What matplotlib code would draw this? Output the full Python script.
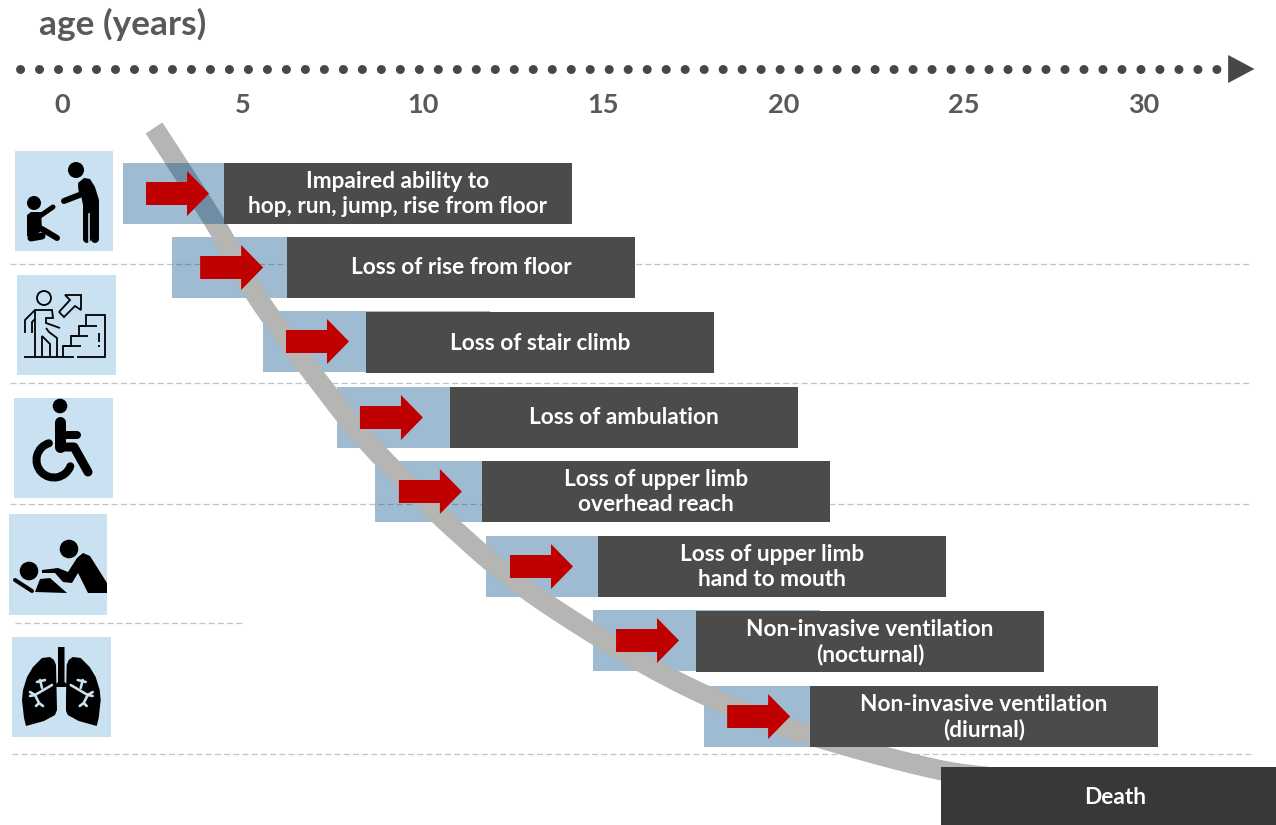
import numpy as np
import matplotlib
matplotlib.use("Agg")
import matplotlib.pyplot as plt
from matplotlib.patches import Polygon, Circle, Rectangle, Arc
from matplotlib.path import Path

plt.rcParams["font.family"] = ["Lato", "DejaVu Sans"]

# Milestones, youngest first (ages in years)
labels = [
    "Impaired ability to\nhop, run, jump, rise from floor",
    "Loss of rise from floor",
    "Loss of stair climb",
    "Loss of ambulation",
    "Loss of upper limb\noverhead reach",
    "Loss of upper limb\nhand to mouth",
    "Non-invasive ventilation\n(nocturnal)",
    "Non-invasive ventilation\n(diurnal)",
]
onset_start = [1.69, 3.05, 5.57, 7.62, 8.68, 11.75, 14.72, 17.80]
onset_end = [4.49, 6.24, 11.87, 10.76, 11.64, 14.86, 21.01, 20.74]
range_start = [4.49, 6.24, 8.43, 10.76, 11.64, 14.86, 17.58, 20.74]
range_end = [14.14, 15.89, 18.08, 20.40, 21.29, 24.51, 27.22, 30.39]
arrow_start = [2.33, 3.83, 6.21, 8.26, 9.34, 12.42, 15.36, 18.44]
onset_top = [163, 237, 311, 387, 461, 536, 610, 686]
range_top = [163, 237, 312, 387, 461, 536, 611, 686]

death_label = "Death"
death_start = 24.37
death_end = 34.02

age_ticks = [0, 5, 10, 15, 20, 25, 30]

# Decline curve knots: age and vertical position
curve_age = [2.55, 2.77, 4.24, 5.43, 7.15, 8.62, 10.90, 13.17, 16.55, 19.35, 21.85, 24.34, 26.0]
curve_y = [128, 140, 223, 298, 383, 448, 530, 597, 672, 718, 747, 770, 778]

# Separators: y, left age, right age
rule_y = [264, 383, 504, 623, 754]
rule_x0 = [-1.44, -1.44, -1.44, -1.30, -1.39]
rule_x1 = [33.0, 33.0, 33.0, 4.99, 33.0]

# Icon tiles: left, top, width, height
tile_x = [15, 17, 14, 9, 12]
tile_y = [151, 275, 398, 514, 637]
tile_w = [98, 99, 99, 98, 99]
tile_h = [100, 100, 100, 101, 100]

BAR_H = 61
INK = "#595959"
DARK = "#4b4b4a"
TILE = "#c9e1f1"
BLACK = "#000000"

fig = plt.figure(figsize=(12.76, 8.25), dpi=100)
ax = fig.add_axes([0, 0, 1, 1])
ax.set_xlim(-62 / 36.07, (1276 - 62) / 36.07)
ax.set_ylim(825, 0)
for s in ax.spines.values():
    s.set_visible(False)
ax.set_yticks([])
ax.set_xticks(age_ticks)
ax.tick_params(axis="x", length=0, bottom=False, top=False, labelbottom=False,
               labeltop=True, pad=-84.5, labelsize=19.5, labelcolor=INK)
for t in ax.get_xticklabels():
    t.set_fontweight("bold")

px = 72 / fig.dpi

# Axis title and dotted time arrow
ax.text(39 / 36.07 - 62 / 36.07, 24, "age (years)", fontsize=25.4, fontweight="bold",
        color=INK, ha="left", va="center")
ax.plot([-1.17, 32.2], [69, 69], color="#474747", lw=9 * px,
        linestyle=(0, (0.01, 18.9 / 9)), dash_capstyle="round", zorder=2)
ax.add_patch(Polygon([(32.33, 55), (33.06, 69), (32.33, 83)], closed=True,
                     facecolor="#474747", edgecolor="none", zorder=3))

# Dashed separators
for y, a, b in zip(rule_y, rule_x0, rule_x1):
    ax.plot([a, b], [y, y], color="#c4c4c4", lw=1.3 * px,
            linestyle=(0, (6 / 1.3, 3.2 / 1.3)), zorder=1)

# Smooth decline curve through its knots
k = np.column_stack([curve_age, curve_y])
verts = [tuple(k[0])]
codes = [Path.MOVETO]
for i in range(len(k) - 1):
    p0 = k[max(i - 1, 0)]
    p1, p2 = k[i], k[i + 1]
    p3 = k[min(i + 2, len(k) - 1)]
    verts += [tuple(p1 + (p2 - p0) / 6), tuple(p2 - (p3 - p1) / 6), tuple(p2)]
    codes += [Path.CURVE4] * 3
samples = np.linspace(0, 1, 16)
smooth = np.vstack([seg(samples) for seg, code in Path(verts, codes).iter_bezier()
                    if code == Path.CURVE4])
ax.plot(smooth[:, 0], smooth[:, 1], color="#b5b5b4", lw=20 * px,
        solid_capstyle="butt", solid_joinstyle="round", zorder=4)

# Onset bands; the first one sits over the curve
for i in range(len(labels)):
    ax.barh(onset_top[i] + BAR_H / 2, onset_end[i] - onset_start[i], BAR_H,
            left=onset_start[i], color="#004c89", alpha=0.38, linewidth=0,
            zorder=5 if i == 0 else 3)

# Range bars with labels
for i, txt in enumerate(labels):
    ax.barh(range_top[i] + BAR_H / 2, range_end[i] - range_start[i], BAR_H,
            left=range_start[i], color=DARK, linewidth=0, zorder=6)
    ax.text((range_start[i] + range_end[i]) / 2, range_top[i] + BAR_H / 2 + 0.5, txt,
            color="white", fontsize=16.3, fontweight="bold", ha="center", va="center",
            linespacing=1.22, zorder=8)

# Red onset arrows
HEAD_AT = 41 / 36.07
ARROW_LEN = 63 / 36.07
for x0, top in zip(arrow_start, onset_top):
    c = top + BAR_H / 2
    ax.add_patch(Polygon([(x0, c - 11.5), (x0 + HEAD_AT, c - 11.5), (x0 + HEAD_AT, c - 22.5),
                          (x0 + ARROW_LEN, c), (x0 + HEAD_AT, c + 22.5),
                          (x0 + HEAD_AT, c + 11.5), (x0, c + 11.5)], closed=True,
                         facecolor="#c00000", edgecolor="none", zorder=7))

# Final event
ax.barh(767 + 29, death_end - death_start, 58, left=death_start, color="#383838",
        linewidth=0, zorder=6)
ax.text((death_start + death_end) / 2, 797.5, death_label, color="white", fontsize=16.3,
        fontweight="bold", ha="center", va="center", zorder=8)

# Overlay in figure pixels for the icons
ic = fig.add_axes([0, 0, 1, 1], facecolor="none")
ic.set_xlim(0, 1276)
ic.set_ylim(825, 0)
ic.axis("off")


def stroke(xs, ys, w, color=BLACK, cap="round", z=10):
    ic.plot(xs, ys, color=color, lw=w * px, solid_capstyle=cap, solid_joinstyle="round", zorder=z)


def blob(points, color=BLACK, z=10):
    ic.add_patch(Polygon(points, closed=True, facecolor=color, edgecolor="none", zorder=z))


def disc(x, y, r):
    ic.add_patch(Circle((x, y), r, facecolor=BLACK, edgecolor="none", zorder=10))


for x, y, w, h in zip(tile_x, tile_y, tile_w, tile_h):
    ic.add_patch(Rectangle((x, y), w, h, facecolor=TILE, edgecolor="none", zorder=9))

# Adult helping a seated child
disc(76, 170, 8)
blob([(78, 183), (84, 178), (90, 179), (95, 187), (99, 200), (99, 238), (83, 238), (83, 205), (81, 195)])
stroke([81, 82, 64], [186, 194, 201], 6)
stroke([87, 87], [215, 239], 8)
stroke([95, 95], [215, 239], 8)
ic.plot([89, 89], [214, 243], color=TILE, lw=1.6 * px, zorder=11)
disc(34, 203, 7)
blob([(27, 215), (31, 212), (41, 212), (42, 228), (40, 232), (30, 238), (27, 236)])
stroke([40, 53], [216, 207], 5)
stroke([42, 57], [229, 238], 6)
stroke([31, 42], [238, 236], 7)

# Figure climbing stairs (line drawing)
LW = 1.8
ic.add_patch(Circle((44, 298), 7, facecolor="none", edgecolor=BLACK, lw=LW * px, zorder=10))
for xs, ys in [
    ([24, 74], [357, 357]),
    ([77, 105, 105, 86, 86, 79, 79, 71, 71, 63, 63], [357, 357, 315, 315, 326, 326, 336, 336, 346, 346, 357]),
    ([63, 81], [346, 346]),
    ([71, 88], [336, 336]),
    ([79, 97], [326, 326]),
    ([99, 99], [333, 342]),
    ([99, 99], [345, 347]),
    ([25, 25, 35, 52, 53, 46, 46, 60], [333, 320, 310, 310, 318, 318, 323, 328]),
    ([32, 32, 35], [333, 322, 319]),
    ([35, 35], [310, 357]),
    ([42, 42, 50, 50], [357, 336, 344, 357]),
    ([57, 57, 49, 46], [345, 338, 332, 328]),
    ([57, 57], [345, 357]),
    ([59, 64, 75, 81, 81, 65, 70, 59], [312, 317, 306, 310, 295, 295, 300, 312]),
]:
    ic.plot(xs, ys, color=BLACK, lw=LW * px, solid_joinstyle="miter", solid_capstyle="butt", zorder=10)

# Wheelchair user
disc(60, 406, 7.3)
stroke([60, 60], [422, 447], 11)
stroke([60, 77], [435, 435], 8)
stroke([60, 74, 88], [447, 447, 472], 9)
ic.add_patch(Arc((54, 460), 35, 35, theta1=21, theta2=253, edgecolor=BLACK, lw=8 * px,
                 capstyle="round", zorder=10))

# Carer feeding a reclining patient
disc(69, 549, 9.3)
disc(29, 571, 9.3)
blob([(83, 553), (90, 556), (107, 583), (107, 593), (88, 593), (78, 573), (72, 583), (63, 582),
      (55, 573), (42, 573), (42, 570), (58, 568), (68, 572), (77, 558)])
blob([(35, 592), (40, 579), (50, 578), (67, 593)])
stroke([15, 32], [580, 591], 4)

# Lungs
left_lung = [(50, 657), (54, 660), (56, 665), (57, 710), (55, 715), (44, 721), (26, 726), (24, 718),
             (22, 700), (23, 690), (27, 677), (33, 667), (42, 658)]
MIRROR = 122.7
blob(left_lung)
blob([(MIRROR - x, y) for x, y in left_lung])
blob([(58, 647), (64.5, 647), (64.5, 682), (67, 684), (67, 687), (56, 687), (56, 684), (58, 682)])
ic.add_patch(Rectangle((57, 687), 9, 30, facecolor=TILE, edgecolor="none", zorder=10))
for xs, ys in [
    ([52, 35], [685, 695]),
    ([40, 42], [680, 688]),
    ([37, 45], [682, 680]),
    ([30, 35, 30], [692, 695, 696]),
    ([35, 39], [695, 703]),
    ([36, 39, 43], [706, 703, 706]),
]:
    stroke(xs, ys, 2.6, color=TILE, z=11)
    stroke([MIRROR - v for v in xs], ys, 2.6, color=TILE, z=11)

fig.savefig("out.png", dpi=100)
